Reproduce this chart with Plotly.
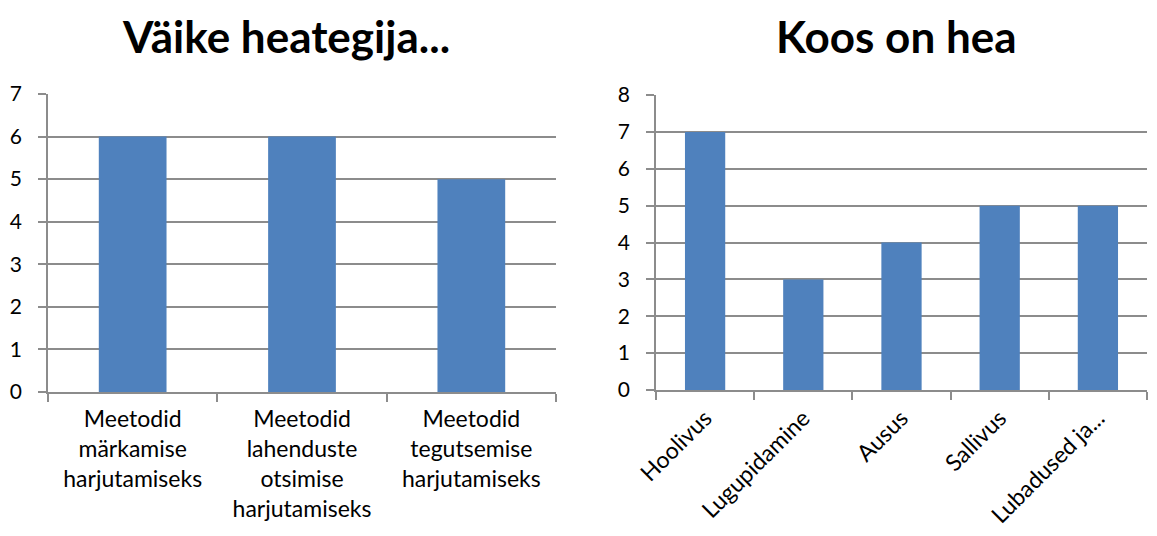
import plotly.graph_objects as go

left_title = "Väike heategija..."
left_categories = ["Meetodid<br>märkamise<br>harjutamiseks",
                   "Meetodid<br>lahenduste<br>otsimise<br>harjutamiseks",
                   "Meetodid<br>tegutsemise<br>harjutamiseks"]
left_values = [6, 6, 5]

right_title = "Koos on hea"
right_categories = ["Hoolivus", "Lugupidamine", "Ausus", "Sallivus", "Lubadused ja..."]
right_values = [7, 3, 4, 5, 5]

BAR = "#4F81BD"
GRID = "#8C8C8C"
FONT = "Lato, 'Open Sans', sans-serif"

fig = go.Figure()
fig.add_trace(go.Bar(x=left_categories, y=left_values, marker_color=BAR,
                     marker_line_width=0, width=0.4, xaxis="x", yaxis="y"))
fig.add_trace(go.Bar(x=right_categories, y=right_values, marker_color=BAR,
                     marker_line_width=0, width=0.41, xaxis="x2", yaxis="y2"))

W, H = 1157, 536
OFF = 8  # default page body margin
def px(x): return (x - OFF) / W
def py(y): return (H - (y - OFF)) / H

line_common = dict(showline=True, linecolor=GRID, linewidth=1.5, automargin=False)
xfont = dict(family=FONT, size=23, color="#000")
yfont = dict(family=FONT, size=21, color="#000")

fig.update_layout(
    width=W, height=H,
    margin=dict(l=0, r=0, t=0, b=0, pad=0),
    paper_bgcolor="white", plot_bgcolor="white",
    showlegend=False,
    font=dict(family=FONT, color="#000"),
    xaxis=dict(domain=[px(48), px(556)], type="category", ticks="outside",
               tickson="boundaries", ticklen=8, tickcolor=GRID, tickwidth=1.5,
               tickangle=0, ticklabelstandoff=6, tickfont=xfont, **line_common),
    yaxis=dict(domain=[py(392), py(94)], range=[0, 7], dtick=1, showgrid=True,
               gridcolor=GRID, gridwidth=1.5, ticks="outside", ticklen=8,
               tickcolor=GRID, tickwidth=1.5, zeroline=False,
               ticklabelstandoff=12, tickfont=yfont, **line_common),
    xaxis2=dict(domain=[px(656), px(1147)], type="category", ticks="outside",
                tickson="boundaries", ticklen=8, tickcolor=GRID, tickwidth=1.5,
                tickangle=-45, anchor="y2", ticklabelstandoff=4, tickfont=xfont,
                **line_common),
    yaxis2=dict(domain=[py(390), py(95)], range=[0, 8], dtick=1, showgrid=True,
                gridcolor=GRID, gridwidth=1.5, ticks="outside", ticklen=8,
                tickcolor=GRID, tickwidth=1.5, zeroline=False, anchor="x2",
                ticklabelstandoff=12, tickfont=yfont, **line_common),
    annotations=[
        dict(text="<b>" + left_title + "</b>", x=px(286), y=py(36), xref="paper",
             yref="paper", xanchor="center", yanchor="middle", showarrow=False,
             font=dict(family=FONT, size=44)),
        dict(text="<b>" + right_title + "</b>", x=px(896), y=py(36), xref="paper",
             yref="paper", xanchor="center", yanchor="middle", showarrow=False,
             font=dict(family=FONT, size=44)),
    ],
)

fig.write_html("out.html")
